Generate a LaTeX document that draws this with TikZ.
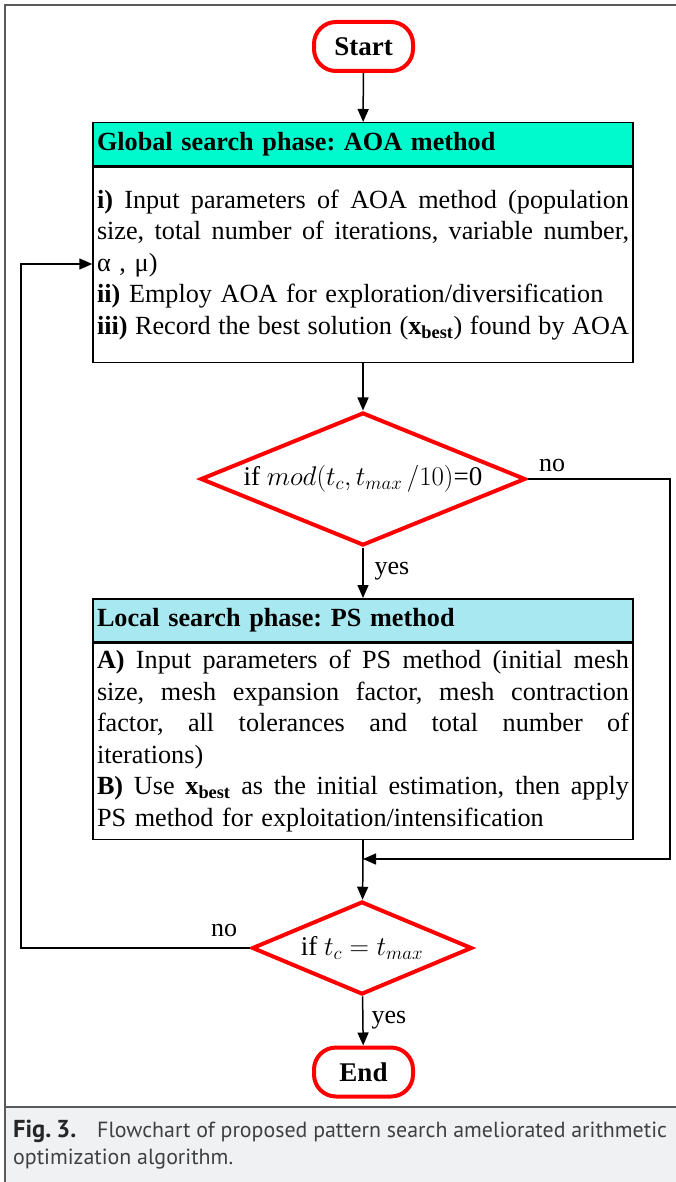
\RequirePackage{fix-cm}
\documentclass[tikz,border=0pt]{standalone}
\usepackage{fontspec}
\setmainfont{Liberation Serif}
\newfontfamily\capfont{PT Sans}
\usetikzlibrary{arrows.meta,shapes.geometric}
\definecolor{hdrA}{RGB}{0,250,205}
\definecolor{hdrB}{RGB}{168,232,240}
\definecolor{capbg}{RGB}{240,241,243}
\definecolor{capfg}{RGB}{64,64,64}
\definecolor{framec}{RGB}{90,90,90}
\newcommand\jline[1]{\makebox[532pt][s]{\spaceskip=0.25em plus 3em minus 0.05em\relax #1}}
\frenchspacing
\begin{document}
\begin{tikzpicture}[x=1pt,y=-1pt,
  term/.style={draw=red, line width=4pt, rounded corners=22pt, minimum width=99pt,
    minimum height=49pt, inner sep=0pt, fill=white, font=\fontsize{27}{32}\selectfont\bfseries},
  hdr/.style={draw=black, line width=1.5pt, minimum width=540pt, minimum height=43pt,
    text width=532pt, inner xsep=4pt, inner ysep=0pt, align=left,
    font=\fontsize{26.2}{32}\selectfont\bfseries\frenchspacing},
  bodybox/.style={draw=black, line width=1.5pt, minimum width=540pt,
    text width=532pt, inner xsep=4pt, inner ysep=0pt, align=left,
    font=\fontsize{26.2}{31.5}\selectfont\frenchspacing},
  dec/.style={diamond, draw=red, line width=4pt, inner sep=0pt, fill=white,
    font=\fontsize{27}{32}\selectfont},
  conn/.style={line width=1.5pt, -{Triangle[length=13pt,width=11pt]}},
  plain/.style={line width=1.5pt},
  lbl/.style={font=\fontsize{26}{30}\selectfont, inner sep=0pt},
  captext/.style={anchor=base west, inner sep=0pt, font=\capfont\fontsize{21.9}{26}\selectfont, text=capfg}]
\useasboundingbox (0,0) rectangle (676,1182);
% outer frame and caption area
\fill[capbg] (5,1107) rectangle (676,1182);
\draw[framec, line width=1.5pt] (5,1182) -- (5,5) -- (676,5);
\draw[framec, line width=1.5pt] (5,1107) -- (676,1107);
% terminals
\node[term] (start) at (363.5,46.5) {Start};
\node[term] (end) at (363.5,1072) {End};
% global box
\node[hdr, fill=hdrA, anchor=north] (ghdr) at (363,122) {Global search phase: AOA method};
\node[bodybox, anchor=north, minimum height=195pt] (gbody) at (ghdr.south) {%
\jline{\textbf{i)} Input parameters of AOA method (population}\\
\jline{size, total number of iterations, variable number,}\\
α , μ)\\
\textbf{ii)} Employ AOA for exploration/diversification\\
\jline{\textbf{iii)} Record the best solution (\textbf{x\textsubscript{best}}) found by AOA}};
% decision 1
\node[dec, aspect=2.4, minimum width=325pt, minimum height=133pt] (d1) at (363,479) {if $mod(t_c,t_{max}\,/10)$=0};
% local box
\node[hdr, fill=hdrB, anchor=north] (lhdr) at (363,598) {Local search phase: PS method};
\node[bodybox, anchor=north, minimum height=196pt] (lbody) at (lhdr.south) {%
\jline{\textbf{A)} Input parameters of PS method (initial mesh}\\
\jline{size, mesh expansion factor, mesh contraction}\\
\jline{factor, all tolerances and total number of}\\
iterations)\\
\jline{\textbf{B)} Use \textbf{x\textsubscript{best}} as the initial estimation, then apply}\\
PS method for exploitation/intensification};
% decision 2
\node[dec, aspect=2.3, minimum width=220pt, minimum height=93pt] (d2) at (362,948) {if $t_c = t_{max}$};
% labels
\node[lbl] (no1) at (552,465) {no};
\node[lbl] (yes1) at (392,571) {yes};
\node[lbl] (no2) at (224,930) {no};
\node[lbl] (yes2) at (389,1020) {yes};
% coordinates
\coordinate (m) at (363,859);
\coordinate (r) at (670,859);
\coordinate (l) at (21,264);
% connectors
\draw[conn] (start) -- (ghdr);
\draw[conn] (gbody) -- (d1);
\draw[conn] (d1) -- (lhdr);
\draw[plain] (lbody.south) -- (m);
\draw[conn] (m) -- (d2);
\draw[conn] (d1.east) -| (r) -- (m);
\draw[conn] (d2.west) -| (l) -- (gbody.west |- l);
\draw[conn] (d2) -- (end);
% caption
\node[captext] (cap1) at (13,1137) {\makebox[84pt][l]{\color{black!85}\fontsize{24.5}{26}\selectfont\bfseries Fig.\hspace{5pt}3.}Flowchart of proposed pattern search ameliorated arithmetic};
\node[captext] (cap2) at (13,1164) {optimization algorithm.};
\end{tikzpicture}
\end{document}
